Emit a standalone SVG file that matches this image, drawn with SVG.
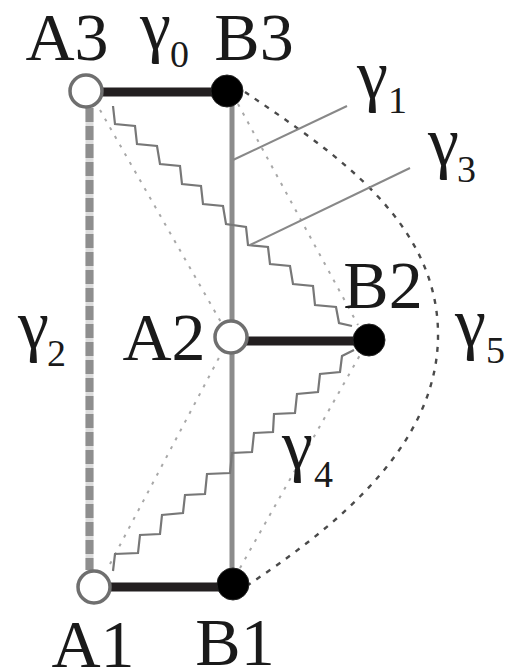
<svg xmlns="http://www.w3.org/2000/svg" width="505" height="671" viewBox="0 0 505 671">
<style>
text{font-family:'Liberation Serif',serif}
.lbl{font-size:68px;fill:#1a1a1a;text-anchor:middle}
.g{fill:#1a1a1a}
.gm{font-size:70px}
.sub{font-size:38px}
.open{fill:#fff;stroke:#6f6f6f;stroke-width:3.5}
.full{fill:#000;stroke:#222;stroke-width:1}
.thick{stroke:#231f20;stroke-width:9;fill:none}
.stem{stroke:#8c8c8c;stroke-width:5;fill:none}
.zig{stroke:#777;stroke-width:2.2;fill:none;stroke-linejoin:miter}
.dot{stroke:#a8a8a8;stroke-width:2;fill:none;stroke-dasharray:3 7}
.dash{stroke:#4a4a4a;stroke-width:2.4;fill:none;stroke-dasharray:5 7}
.gbase{stroke:#dcdcdc;stroke-width:8;fill:none}
.gdash{stroke:#8e8e8e;stroke-width:8;fill:none;stroke-dasharray:14 4}
.thin{stroke:#888;stroke-width:2;fill:none}
</style>
<g id="connectors">
  <line class="gbase" x1="89.5" y1="108" x2="89.5" y2="570"/>
  <line class="gdash" x1="89.5" y1="108" x2="89.5" y2="570"/>
  <line class="stem" x1="232" y1="100" x2="232" y2="575"/>
  <line class="dot" x1="100" y1="110" x2="222" y2="324"/>
  <line class="dot" x1="110" y1="564" x2="222" y2="352"/>
  <line class="dot" x1="238" y1="104" x2="358" y2="325"/>
  <line class="dot" x1="240" y1="568" x2="360" y2="355"/>
  <path class="dash" d="M245,92 C330,150 440,220 438,338 C436,450 330,530 248,585"/>
  <polyline class="zig" points="113,106 115,124 135,126 137,144 157,146 160,164 180,166 182,184 201,186 203,204 223,206 226,224 246,227 248,245 268,247 270,264 290,266 293,284 313,286 315,305 336,307 339,323 352,326"/>
  <polyline class="zig" points="113,571 115,554 138,553 140,535 160,534 162,515 183,513 185,495 205,494 207,474 230,473 232,453 252,452 254,433 273,432 274,414 295,413 297,394 318,392 320,374 340,372 342,356 354,350"/>
  <line class="thin" x1="233" y1="160" x2="347" y2="106"/>
  <line class="thin" x1="250" y1="245" x2="410" y2="168"/>
  <line class="thick" x1="100" y1="92" x2="214" y2="92"/>
  <line class="thick" x1="246" y1="341" x2="355" y2="341"/>
  <line class="thick" x1="109" y1="587" x2="219" y2="587"/>
  <text class="g" x="140" y="49"><tspan class="gm">γ</tspan><tspan class="sub" x="170" y="67">0</tspan></text>
  <text class="g" x="357" y="98"><tspan class="gm">γ</tspan><tspan class="sub" x="388" y="113">1</tspan></text>
  <text class="g" x="18" y="348"><tspan class="gm">γ</tspan><tspan class="sub" x="47" y="366">2</tspan></text>
  <text class="g" x="428" y="165"><tspan class="gm">γ</tspan><tspan class="sub" x="457" y="182">3</tspan></text>
  <text class="g" x="282" y="468"><tspan class="gm">γ</tspan><tspan class="sub" x="314" y="487">4</tspan></text>
  <text class="g" x="455" y="346"><tspan class="gm">γ</tspan><tspan class="sub" x="486" y="363">5</tspan></text>
</g>
<g id="A3"><circle class="open" cx="86" cy="91" r="16"/><text class="lbl" x="67" y="60">A3</text></g>
<g id="B3"><circle class="full" cx="227" cy="91" r="16"/><text class="lbl" x="254" y="60">B3</text></g>
<g id="A2"><circle class="open" cx="231" cy="337" r="16"/><text class="lbl" x="164" y="360">A2</text></g>
<g id="B2"><circle class="full" cx="369" cy="340" r="16"/><text class="lbl" x="383" y="308">B2</text></g>
<g id="A1"><circle class="open" cx="94" cy="587" r="16"/><text class="lbl" x="93" y="667">A1</text></g>
<g id="B1"><circle class="full" cx="233" cy="584" r="16"/><text class="lbl" x="235" y="665">B1</text></g>
</svg>
